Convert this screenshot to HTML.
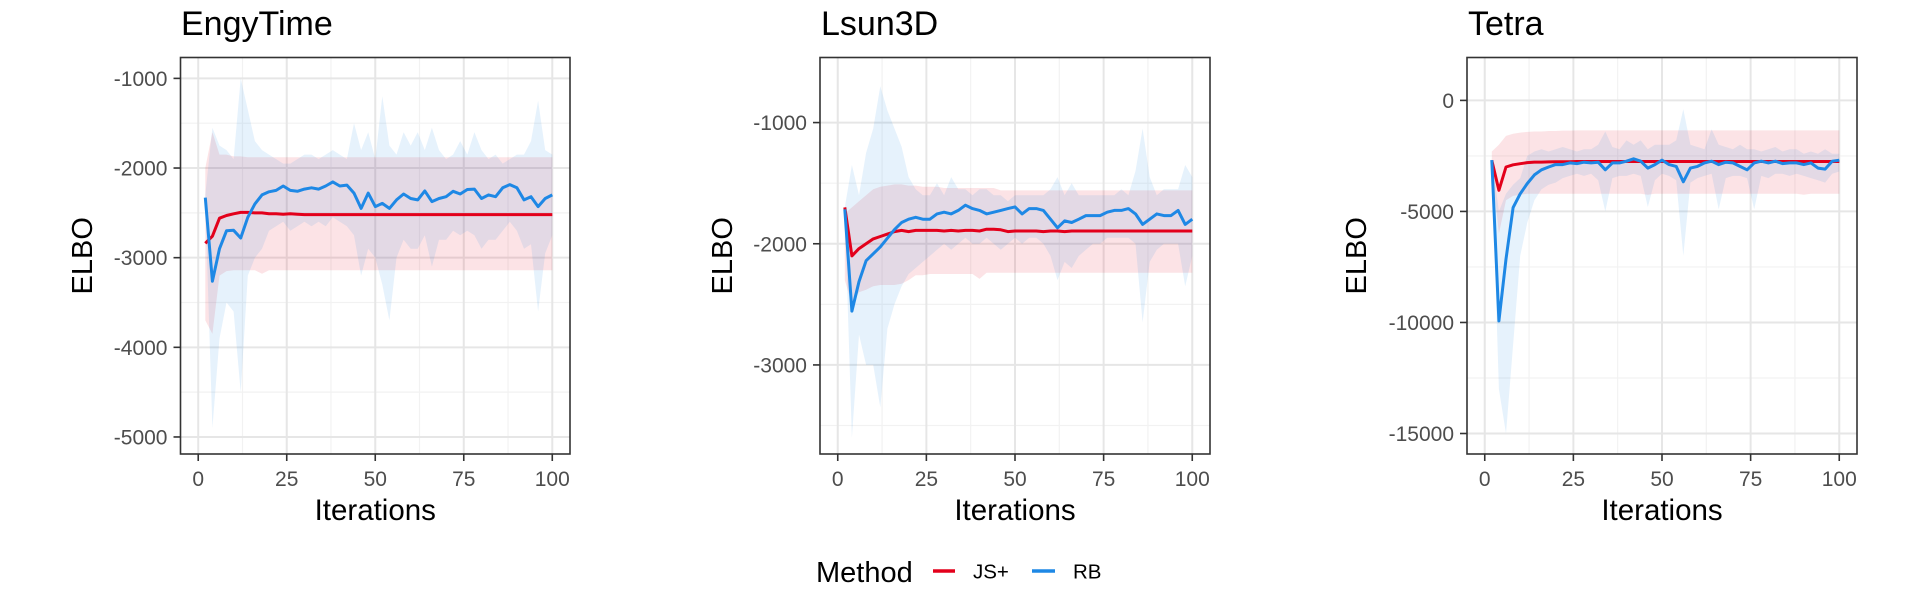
<!DOCTYPE html>
<html><head><meta charset="utf-8">
<style>
html,body{margin:0;padding:0;background:#fff;}
svg{display:block;font-family:"Liberation Sans",Arial,sans-serif;}
</style></head>
<body>
<svg id="chart" width="1920" height="600" viewBox="0 0 1920 600" xmlns="http://www.w3.org/2000/svg"></svg>
<script>
// ---------- data ----------
const iterations = [2,4,6,8,10,12,14,16,18,20,22,24,26,28,30,32,34,36,38,40,42,44,46,48,50,52,54,56,58,60,62,64,66,68,70,72,74,76,78,80,82,84,86,88,90,92,94,96,98,100];
const xTicks = [0,25,50,75,100];

// EngyTime
const engyRB = [-2330,-3262,-2900,-2700,-2695,-2780,-2550,-2400,-2300,-2265,-2250,-2200,-2250,-2260,-2235,-2220,-2235,-2200,-2155,-2200,-2190,-2280,-2450,-2280,-2430,-2395,-2450,-2355,-2290,-2340,-2355,-2255,-2375,-2340,-2320,-2260,-2290,-2240,-2235,-2340,-2300,-2320,-2220,-2185,-2220,-2355,-2320,-2430,-2340,-2300];
const engyRBhi = [-2300,-1550,-1750,-1800,-1900,-1000,-1350,-1700,-1800,-1850,-1900,-1950,-1950,-1900,-1850,-1850,-1900,-1850,-1800,-1850,-1900,-1500,-1800,-1600,-1900,-1200,-1750,-1850,-1600,-1750,-1600,-1800,-1550,-1800,-1900,-1850,-1700,-1850,-1600,-1800,-1900,-1850,-1950,-1900,-1850,-1850,-1700,-1250,-1800,-1850];
const engyRBlo = [-2400,-4900,-3900,-3500,-3600,-4500,-3200,-3000,-2900,-2700,-2650,-2600,-2700,-2650,-2600,-2650,-2600,-2650,-2550,-2600,-2650,-2750,-3200,-2900,-3000,-3300,-3700,-3000,-2800,-2900,-2900,-2750,-3100,-2800,-2800,-2700,-2750,-2700,-2750,-2900,-2800,-2800,-2700,-2600,-2700,-2900,-2850,-3600,-2950,-2750];
const engyJS = [-2840,-2760,-2560,-2530,-2510,-2495,-2495,-2500,-2500,-2510,-2510,-2515,-2510,-2515,-2520,-2520,-2520,-2520,-2520,-2520,-2520,-2520,-2520,-2520,-2520,-2520,-2520,-2520,-2520,-2520,-2520,-2520,-2520,-2520,-2520,-2520,-2520,-2520,-2520,-2520,-2520,-2520,-2520,-2520,-2520,-2520,-2520,-2520,-2520,-2520];
const engyJShi = [-2000,-1600,-1850,-1850,-1870,-1870,-1880,-1880,-1880,-1880,-1880,-1880,-1880,-1880,-1880,-1880,-1880,-1880,-1880,-1880,-1880,-1880,-1880,-1880,-1880,-1880,-1880,-1880,-1880,-1880,-1880,-1880,-1880,-1880,-1880,-1880,-1880,-1880,-1880,-1880,-1880,-1880,-1880,-1880,-1880,-1880,-1880,-1880,-1880,-1880];
const engyJSlo = [-3700,-3850,-3200,-3150,-3140,-3140,-3140,-3140,-3180,-3140,-3140,-3140,-3140,-3140,-3140,-3140,-3140,-3140,-3140,-3140,-3140,-3140,-3140,-3140,-3140,-3140,-3140,-3140,-3140,-3140,-3140,-3140,-3140,-3140,-3140,-3140,-3140,-3140,-3140,-3140,-3140,-3140,-3140,-3140,-3140,-3140,-3140,-3140,-3140,-3140];

// Lsun3D
const lsunRB = [-1716,-2556,-2312,-2140,-2083,-2026,-1954,-1883,-1825,-1797,-1782,-1797,-1797,-1754,-1740,-1754,-1725,-1682,-1710,-1725,-1754,-1740,-1725,-1710,-1696,-1754,-1710,-1710,-1725,-1797,-1868,-1811,-1825,-1797,-1768,-1768,-1768,-1740,-1725,-1725,-1710,-1754,-1840,-1797,-1754,-1768,-1768,-1725,-1840,-1797];
const lsunRBhi = [-1700,-1350,-1600,-1250,-1050,-700,-900,-1050,-1200,-1450,-1550,-1600,-1600,-1500,-1600,-1450,-1550,-1550,-1600,-1550,-1550,-1600,-1600,-1650,-1600,-1600,-1600,-1600,-1600,-1550,-1450,-1600,-1500,-1600,-1600,-1600,-1600,-1600,-1600,-1550,-1600,-1400,-1050,-1450,-1600,-1550,-1550,-1550,-1350,-1450];
const lsunRBlo = [-1750,-3600,-2750,-3000,-3000,-3350,-2700,-2500,-2350,-2250,-2200,-2150,-2100,-2050,-2000,-2050,-2000,-1950,-2000,-2000,-1950,-2000,-2050,-2000,-1950,-2000,-1950,-1950,-2000,-2100,-2300,-2150,-2200,-2100,-2050,-2000,-2000,-1950,-1950,-1950,-1950,-2000,-2650,-2150,-2050,-2000,-2000,-2000,-2350,-2100];
const lsunJS = [-1700,-2100,-2040,-2000,-1960,-1940,-1920,-1900,-1890,-1900,-1890,-1890,-1890,-1890,-1895,-1890,-1895,-1890,-1890,-1895,-1880,-1880,-1885,-1900,-1895,-1895,-1895,-1895,-1900,-1895,-1895,-1900,-1895,-1895,-1895,-1895,-1895,-1895,-1895,-1895,-1895,-1895,-1895,-1895,-1895,-1895,-1895,-1895,-1895,-1895];
const lsunJShi = [-1750,-1700,-1650,-1600,-1550,-1530,-1520,-1510,-1510,-1520,-1520,-1530,-1530,-1530,-1540,-1540,-1540,-1540,-1540,-1540,-1540,-1540,-1560,-1560,-1560,-1560,-1560,-1560,-1560,-1560,-1560,-1560,-1560,-1560,-1560,-1560,-1560,-1560,-1560,-1560,-1560,-1560,-1560,-1560,-1560,-1560,-1560,-1560,-1560,-1560];
const lsunJSlo = [-2300,-2500,-2400,-2380,-2350,-2340,-2340,-2340,-2330,-2300,-2260,-2260,-2250,-2250,-2250,-2250,-2250,-2250,-2250,-2290,-2240,-2240,-2240,-2240,-2240,-2240,-2240,-2240,-2240,-2240,-2240,-2240,-2240,-2240,-2240,-2240,-2240,-2240,-2240,-2240,-2240,-2240,-2240,-2240,-2240,-2240,-2240,-2240,-2240,-2240];

// Tetra
const tetraRB = [-2690,-9930,-7145,-4825,-4206,-3742,-3356,-3124,-3000,-2892,-2892,-2815,-2846,-2784,-2815,-2784,-3124,-2815,-2815,-2738,-2630,-2738,-3047,-2892,-2690,-2892,-2970,-3665,-3047,-2970,-2815,-2738,-2892,-2784,-2815,-2970,-3124,-2815,-2738,-2815,-2738,-2846,-2815,-2815,-2892,-2815,-3047,-3093,-2738,-2691];
const tetraRBhi = [-2600,-5000,-4200,-3800,-3500,-2500,-2300,-2200,-2300,-2200,-2100,-2200,-2300,-2200,-2200,-2000,-1400,-2100,-2200,-1800,-2000,-1800,-2200,-2000,-2000,-2000,-1800,-400,-2000,-2100,-2200,-1300,-2000,-2100,-2200,-2000,-2200,-2200,-2300,-2200,-2100,-2300,-2200,-2200,-2400,-2300,-2400,-2200,-2400,-2400];
const tetraRBlo = [-2800,-13000,-15000,-11000,-7000,-5500,-4500,-4000,-3800,-3700,-3500,-3400,-3300,-3400,-3300,-3600,-5000,-3500,-3400,-3400,-3300,-3400,-4800,-3600,-3300,-3400,-3600,-7000,-3700,-3500,-3400,-3300,-4900,-3500,-3400,-3400,-3500,-4900,-3400,-3500,-3300,-3300,-3400,-3300,-3400,-3500,-3600,-3700,-3300,-3200];
const tetraJS = [-2700,-4050,-3000,-2900,-2850,-2800,-2780,-2780,-2770,-2760,-2760,-2760,-2750,-2750,-2750,-2750,-2750,-2750,-2750,-2750,-2750,-2750,-2750,-2750,-2750,-2750,-2750,-2750,-2750,-2750,-2750,-2750,-2750,-2750,-2750,-2750,-2750,-2750,-2750,-2750,-2750,-2750,-2750,-2750,-2750,-2750,-2750,-2750,-2750,-2750];
const tetraJShi = [-2300,-2000,-1600,-1500,-1450,-1420,-1400,-1400,-1380,-1380,-1360,-1360,-1350,-1350,-1350,-1350,-1350,-1350,-1350,-1350,-1350,-1350,-1350,-1350,-1350,-1350,-1350,-1350,-1350,-1350,-1350,-1350,-1350,-1350,-1350,-1350,-1350,-1350,-1350,-1350,-1350,-1350,-1350,-1350,-1350,-1350,-1350,-1350,-1350,-1350];
const tetraJSlo = [-3000,-6000,-4500,-4300,-4250,-4200,-4200,-4200,-4200,-4200,-4200,-4200,-4200,-4200,-4200,-4200,-4200,-4200,-4200,-4200,-4200,-4200,-4250,-4200,-4200,-4200,-4200,-4200,-4200,-4200,-4200,-4200,-4200,-4200,-4200,-4200,-4200,-4200,-4200,-4200,-4200,-4200,-4200,-4200,-4250,-4200,-4200,-4200,-4200,-4200];

const engyYTicks = [-1000,-2000,-3000,-4000,-5000];
const lsunYTicks = [-1000,-2000,-3000];
const tetraYTicks = [0,-5000,-10000,-15000];

// ---------- drawing ----------
const NS = "http://www.w3.org/2000/svg";
const svg = document.getElementById("chart");
const RED = "#e3001b", BLUE = "#1e88e5";
function mk(tag, attrs, parent){ const e=document.createElementNS(NS,tag); for(const k in attrs) e.setAttribute(k,attrs[k]); (parent||svg).appendChild(e); return e; }

function panel(cfg){
  const g = mk("g",{});
  
  
  const L=cfg.left, R=cfg.right, T=57.5, B=454;
  const xs = v => L + (R-L)*(0.0455 + 0.909*(v-0)/100);
  const ys = v => T + (B-T)*(cfg.ymax - v)/(cfg.ymax - cfg.ymin);
  const xMinor=[12.5,37.5,62.5,87.5];
  xMinor.forEach(v=>{ const l=mk("line",{x1:xs(v),x2:xs(v),y1:T,y2:B,stroke:"#f2f2f2","stroke-width":1.2},g);
      });
  for(let i=0;i<cfg.yticks.length-1;i++){ const v=(cfg.yticks[i]+cfg.yticks[i+1])/2;
    const l=mk("line",{x1:L,x2:R,y1:ys(v),y2:ys(v),stroke:"#f2f2f2","stroke-width":1.2},g);
      }
  if(cfg.extraMinor){ cfg.extraMinor.forEach(v=>{ const l=mk("line",{x1:L,x2:R,y1:ys(v),y2:ys(v),stroke:"#f2f2f2","stroke-width":1.2},g);
      }); }
  xTicks.forEach(v=>{ const l=mk("line",{x1:xs(v),x2:xs(v),y1:T,y2:B,stroke:"#e6e6e6","stroke-width":2},g);
      });
  cfg.yticks.forEach(v=>{ const l=mk("line",{x1:L,x2:R,y1:ys(v),y2:ys(v),stroke:"#e6e6e6","stroke-width":2},g);
      });
  function ribbon(hi,lo,color,name){
    let d="M"+iterations.map((x,i)=>xs(x).toFixed(1)+","+ys(hi[i]).toFixed(1)).join("L");
    for(let i=iterations.length-1;i>=0;i--) d+="L"+xs(iterations[i]).toFixed(1)+","+ys(lo[i]).toFixed(1);
    const p=mk("path",{d:d+"Z",fill:color,"fill-opacity":0.11,stroke:"none"},g);
     
  }
  function line(vals,color,name){
    const d="M"+iterations.map((x,i)=>xs(x).toFixed(1)+","+ys(vals[i]).toFixed(1)).join("L");
    const p=mk("path",{d:d,fill:"none",stroke:color,"stroke-width":3,"stroke-linejoin":"round"},g);
     
  }
  ribbon(cfg.jshi,cfg.jslo,RED,'js-plus-ribbon');
  ribbon(cfg.rbhi,cfg.rblo,BLUE,'rb-ribbon');
  line(cfg.js,RED,'js-plus-line');
  line(cfg.rb,BLUE,'rb-line');
  const b=mk("rect",{x:L,y:T,width:R-L,height:B-T,fill:"none",stroke:"#333","stroke-width":1.6},g);
   
  xTicks.forEach(v=>{ const t=mk("line",{x1:xs(v),x2:xs(v),y1:B,y2:B+7,stroke:"#333","stroke-width":1.6},g);
     
    const tx=mk("text",{x:xs(v),y:486,"text-anchor":"middle","font-size":21,fill:"#4d4d4d"},g); tx.textContent=v;
      });
  cfg.yticks.forEach(v=>{ const t=mk("line",{x1:L-7,x2:L,y1:ys(v),y2:ys(v),stroke:"#333","stroke-width":1.6},g);
     
    const tx=mk("text",{x:L-13,y:ys(v)+7.5,"text-anchor":"end","font-size":21,fill:"#4d4d4d"},g); tx.textContent=v;
      });
  const xt=mk("text",{x:(L+R)/2,y:520,"text-anchor":"middle","font-size":29.5,fill:"#000"},g); xt.textContent="Iterations";
   
  const yt=mk("text",{x:0,y:0,"text-anchor":"middle","font-size":29,fill:"#000",transform:`translate(${cfg.ylabX},${(T+B)/2}) rotate(-90)`},g); yt.textContent="ELBO";
   
  const tt=mk("text",{x:cfg.titleX,y:35,"font-size":34,fill:"#000"},g); tt.textContent=cfg.title;
   
}

panel({name:"engytime",title:"EngyTime",left:180.5,right:570,ymax:-767,ymin:-5190,yticks:engyYTicks,ylabX:92,titleX:181,
  rb:engyRB,rbhi:engyRBhi,rblo:engyRBlo,js:engyJS,jshi:engyJShi,jslo:engyJSlo});
panel({name:"lsun3d",title:"Lsun3D",left:820,right:1210,ymax:-463,ymin:-3735,yticks:lsunYTicks,extraMinor:[-3500],ylabX:732,titleX:821,
  rb:lsunRB,rbhi:lsunRBhi,rblo:lsunRBlo,js:lsunJS,jshi:lsunJShi,jslo:lsunJSlo});
panel({name:"tetra",title:"Tetra",left:1467,right:1857,ymax:1932,ymin:-15923,yticks:tetraYTicks,ylabX:1366,titleX:1468,
  rb:tetraRB,rbhi:tetraRBhi,rblo:tetraRBlo,js:tetraJS,jshi:tetraJShi,jslo:tetraJSlo});

// legend
const lg=mk("g",{});
 
const lt=mk("text",{x:816,y:582,"font-size":29,fill:"#000"},lg); lt.textContent="Method";
 
const l1=mk("line",{x1:933,x2:955,y1:571,y2:571,stroke:RED,"stroke-width":3.5},lg);
 
const t1=mk("text",{x:973,y:578.5,"font-size":20.5,fill:"#000"},lg); t1.textContent="JS+";
 
const l2=mk("line",{x1:1032,x2:1055,y1:571,y2:571,stroke:BLUE,"stroke-width":3.5},lg);
 
const t2=mk("text",{x:1073,y:578.5,"font-size":20.5,fill:"#000"},lg); t2.textContent="RB";
 
</script>
</body></html>
